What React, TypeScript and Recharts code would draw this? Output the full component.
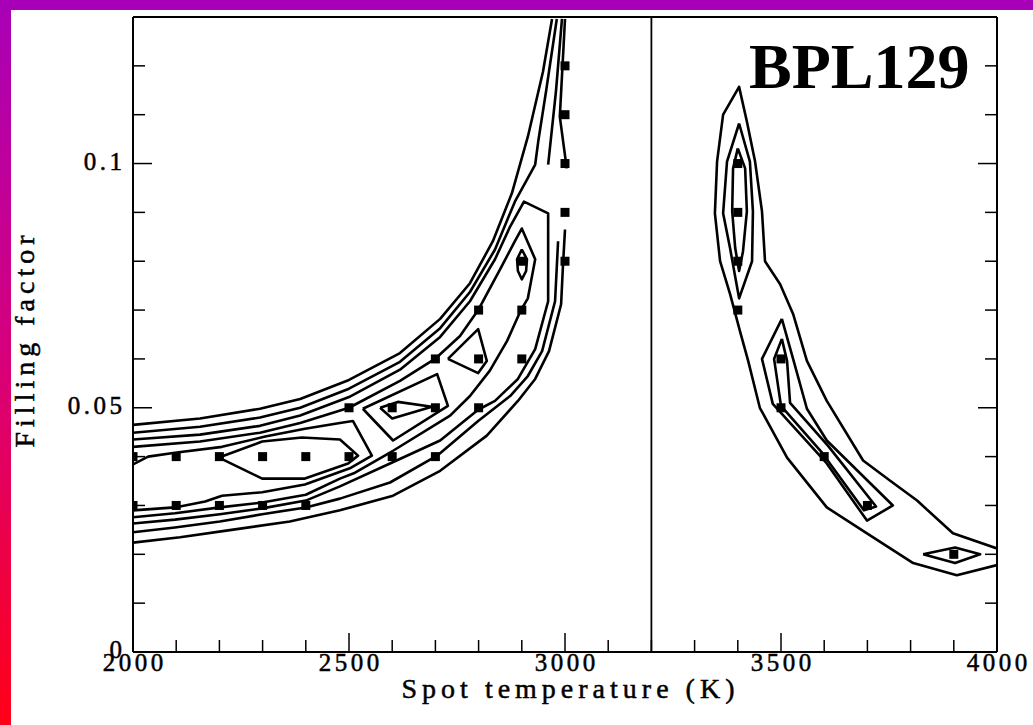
import React from "react";
import { ComposedChart, XAxis, YAxis, Line, Scatter, ReferenceLine, Label } from "recharts";

type Pt = [number, number]; // [spot temperature K, filling factor]

const xTicks = [2000, 2100, 2200, 2300, 2400, 2500, 2600, 2700, 2800, 2900, 3000, 3100, 3200, 3300, 3400, 3500, 3600, 3700, 3800, 3900, 4000];
const xMajorTicks = [2000, 2500, 3000, 3500, 4000];
const yTicks = [0, 0.01, 0.02, 0.03, 0.04, 0.05, 0.06, 0.07, 0.08, 0.09, 0.1, 0.11, 0.12];
const yMajorTicks = [0, 0.05, 0.1];
const yTickLabels = ["0", "0.05", "0.1"];

// grid models that were computed
const gridCool: Pt[] = [
  [2000, 0.04], [2100, 0.04], [2200, 0.04], [2300, 0.04], [2400, 0.04], [2500, 0.04], [2600, 0.04], [2700, 0.04],
  [2000, 0.03], [2100, 0.03], [2200, 0.03], [2300, 0.03], [2400, 0.03],
  [2500, 0.05], [2600, 0.05], [2700, 0.05], [2800, 0.05],
  [2700, 0.06], [2800, 0.06], [2900, 0.06],
  [2800, 0.07], [2900, 0.07],
  [2900, 0.08], [3000, 0.08], [3000, 0.09], [3000, 0.1], [3000, 0.11], [3000, 0.12],
];
const gridWarm: Pt[] = [
  [3400, 0.1], [3400, 0.09], [3400, 0.08], [3400, 0.07],
  [3500, 0.06], [3500, 0.05], [3600, 0.04], [3700, 0.03], [3900, 0.02],
];

// cool branch contours
const coolOuter1: Pt[] = [
  [2000, 0.0465], [2155, 0.0478], [2294, 0.0498], [2387, 0.0518], [2500, 0.0557], [2618, 0.0612],
  [2711, 0.0682], [2780, 0.0755], [2833, 0.0841], [2877, 0.0939], [2914, 0.1055], [2949, 0.1188], [2970, 0.1296],
];
const coolOuter2: Pt[] = [
  [2000, 0.0449], [2155, 0.0461], [2294, 0.048], [2387, 0.05], [2500, 0.0539], [2618, 0.0594], [2711, 0.0663],
  [2780, 0.0737], [2838, 0.0824], [2884, 0.0922], [2912, 0.0967], [2931, 0.0998], [2938, 0.1045], [2956, 0.1147], [2981, 0.1296],
];
const coolEdgeA: Pt[] = [[2993, 0.1296], [2979, 0.1147], [2961, 0.0998]];
const coolEdgeB: Pt[] = [[3000, 0.1296], [2988, 0.1096], [3004, 0.099]];
const coolHook: Pt[] = [
  [2000, 0.0435], [2155, 0.0445], [2294, 0.0463], [2387, 0.0484], [2500, 0.0522], [2618, 0.0578], [2711, 0.0645],
  [2780, 0.0718], [2838, 0.0804], [2873, 0.0871], [2905, 0.0922], [2961, 0.0898], [2961, 0.0718], [2931, 0.062],
  [2891, 0.0559], [2838, 0.0514], [2799, 0.0496], [2711, 0.0433], [2600, 0.0388], [2479, 0.0339], [2400, 0.031],
  [2299, 0.0294], [2201, 0.0282], [2097, 0.0271], [2000, 0.0263],
];
const coolLoop: Pt[] = [
  [2000, 0.042], [2155, 0.0431], [2294, 0.0449], [2387, 0.0469], [2500, 0.05], [2618, 0.0555], [2699, 0.06],
  [2757, 0.0647], [2799, 0.07], [2850, 0.0784], [2884, 0.0841], [2900, 0.0867], [2931, 0.0804], [2914, 0.0724],
  [2898, 0.07], [2866, 0.0637], [2826, 0.0576], [2780, 0.0524], [2734, 0.0484], [2602, 0.0412], [2514, 0.0367],
  [2479, 0.0355], [2400, 0.0322], [2299, 0.0306], [2201, 0.0296], [2097, 0.0284], [2000, 0.0276],
];
const coolInner: Pt[] = [
  [2000, 0.0384], [2035, 0.04], [2097, 0.0408], [2206, 0.042], [2306, 0.0441], [2398, 0.0457], [2479, 0.0469],
  [2509, 0.0473], [2553, 0.0402], [2502, 0.0376], [2398, 0.0343], [2299, 0.0327], [2206, 0.032], [2167, 0.0308],
  [2097, 0.0296], [2000, 0.029],
];
const coolMin1: Pt[] = [
  [2199, 0.0398], [2299, 0.0431], [2391, 0.0439], [2479, 0.0435], [2521, 0.0402], [2498, 0.0386],
  [2398, 0.0355], [2299, 0.0355], [2199, 0.0398],
];
const coolMin2: Pt[] = [[2532, 0.0498], [2704, 0.0569], [2729, 0.0504], [2602, 0.0433], [2532, 0.0498]];
const coolMin2Core: Pt[] = [[2572, 0.05], [2613, 0.0512], [2692, 0.0502], [2600, 0.0478], [2572, 0.05]];
const coolMin3: Pt[] = [[2729, 0.06], [2799, 0.0661], [2819, 0.0596], [2799, 0.0571], [2729, 0.06]];
const coolMin4: Pt[] = [
  [2900, 0.0824], [2912, 0.0804], [2910, 0.078], [2900, 0.0763], [2891, 0.078], [2889, 0.0804], [2900, 0.0824],
];
const coolLower2: Pt[] = [
  [2984, 0.0841], [2977, 0.0718], [2947, 0.0616], [2914, 0.0565], [2873, 0.0524], [2799, 0.0473], [2704, 0.0402],
  [2595, 0.0347], [2479, 0.0314], [2400, 0.0296], [2299, 0.0282], [2201, 0.0267], [2097, 0.0255], [2000, 0.0245],
];
const coolLower1: Pt[] = [
  [3000, 0.0865], [2995, 0.0786], [2991, 0.0712], [2963, 0.0616], [2931, 0.0559], [2891, 0.0514], [2819, 0.0443],
  [2711, 0.0371], [2602, 0.032], [2479, 0.029], [2363, 0.0267], [2220, 0.0249], [2109, 0.0235], [2000, 0.0224],
];

// warm branch contours
const warmOuter: Pt[] = [
  [4000, 0.0212], [3898, 0.0243], [3815, 0.031], [3752, 0.0351], [3690, 0.0392], [3606, 0.0514], [3560, 0.0596],
  [3528, 0.0692], [3498, 0.0753], [3463, 0.08], [3456, 0.0902], [3440, 0.1004], [3421, 0.1086], [3403, 0.1157],
  [3366, 0.11], [3352, 0.1004], [3347, 0.0898], [3359, 0.08], [3382, 0.0733], [3405, 0.0657], [3424, 0.0596],
  [3451, 0.05], [3514, 0.0398], [3606, 0.0296], [3699, 0.0243], [3806, 0.0182], [3907, 0.0157], [4000, 0.0178],
];
const warmMid: Pt[] = [
  [3403, 0.1082], [3428, 0.1004], [3435, 0.0902], [3433, 0.08], [3403, 0.0724], [3382, 0.0827], [3366, 0.0898],
  [3375, 0.1004], [3403, 0.1082],
];
const warmCore: Pt[] = [
  [3400, 0.1031], [3417, 0.099], [3421, 0.0902], [3412, 0.082], [3403, 0.078], [3394, 0.0827], [3387, 0.0902],
  [3389, 0.099], [3400, 0.1031],
];
const warmLow: Pt[] = [
  [3502, 0.0682], [3456, 0.06], [3481, 0.0508], [3606, 0.0386], [3699, 0.0269], [3759, 0.03], [3606, 0.0433],
  [3560, 0.0498], [3528, 0.06], [3502, 0.0682],
];
const warmLowCore: Pt[] = [
  [3502, 0.0641], [3484, 0.06], [3500, 0.0504], [3595, 0.0408], [3692, 0.029], [3720, 0.0298], [3609, 0.0422],
  [3521, 0.051], [3514, 0.0596], [3502, 0.0641],
];
const warmTail: Pt[] = [[3829, 0.02], [3903, 0.0214], [3961, 0.02], [3903, 0.0182], [3829, 0.02]];

const contours: Pt[][] = [
  coolOuter1, coolOuter2, coolEdgeA, coolEdgeB, coolHook, coolLoop, coolInner, coolMin1, coolMin2, coolMin2Core,
  coolMin3, coolMin4, coolLower2, coolLower1, warmOuter, warmMid, warmCore, warmLow, warmLowCore, warmTail,
];

const rows = (pts: Pt[]) => pts.map(([T, f]) => ({ T, f }));

const TICK_SPACING = 3.5;
const TITLE_SPACING = 5;
const tickFont = {
  fontFamily: '"Liberation Serif", serif',
  fontSize: 25,
  letterSpacing: TICK_SPACING,
  stroke: "#000",
  strokeWidth: 0.5,
};
const titleFont = {
  fontFamily: '"Liberation Serif", serif',
  fontSize: 28,
  letterSpacing: TITLE_SPACING,
  stroke: "#000",
  strokeWidth: 0.5,
};
const near = (a: number, b: number) => Math.abs(a - b) < 1e-9;
const MAJOR = 19;
const MINOR = 12;

function bottomTick({ x, y, payload }: any) {
  const major = xMajorTicks.some((m) => near(m, payload.value));
  return (
    <g>
      <line x1={x} x2={x} y1={y} y2={y - (major ? MAJOR : MINOR)} stroke="#000" strokeWidth={1.5} />
      {major && (
        <text x={x + TICK_SPACING / 2} y={y + 19} textAnchor="middle" fill="#000" style={tickFont}>
          {payload.value}
        </text>
      )}
    </g>
  );
}

function topTick({ x, y, payload }: any) {
  const major = xMajorTicks.some((m) => near(m, payload.value));
  return <line x1={x} x2={x} y1={y} y2={y + (major ? MAJOR : MINOR)} stroke="#000" strokeWidth={1.5} />;
}

function leftTick({ x, y, payload }: any) {
  const idx = yMajorTicks.findIndex((m) => near(m, payload.value));
  const major = idx >= 0;
  return (
    <g>
      <line x1={x} x2={x + (major ? MAJOR : MINOR)} y1={y} y2={y} stroke="#000" strokeWidth={1.5} />
      {major && (
        <text x={x - 11 + TICK_SPACING} y={y + 6} textAnchor="end" fill="#000" style={tickFont}>
          {yTickLabels[idx]}
        </text>
      )}
    </g>
  );
}

function rightTick({ x, y, payload }: any) {
  const major = yMajorTicks.some((m) => near(m, payload.value));
  return <line x1={x} x2={x - (major ? MAJOR : MINOR)} y1={y} y2={y} stroke="#000" strokeWidth={1.5} />;
}

const square = (p: any) => <rect x={p.cx - 4.5} y={p.cy - 4.5} width={9} height={9} fill="#000" />;

export default function App() {
  const axisLine = { stroke: "#000", strokeWidth: 2 };
  return (
    <div style={{ position: "relative", width: 1033, height: 725, background: "#fff", overflow: "hidden" }}>
      <style>{"body{margin:0}"}</style>
      <ComposedChart width={1033} height={725} margin={{ top: 16, right: 35, bottom: 72, left: 132 }}>
        <XAxis
          type="number"
          dataKey="T"
          domain={[2000, 4000]}
          allowDataOverflow
          ticks={xTicks}
          interval={0}
          height={1}
          tickSize={0}
          tickMargin={0}
          tickLine={false}
          axisLine={axisLine}
          tick={bottomTick}
        >
          <Label
            content={({ viewBox }: any) => (
              <text
                x={viewBox.x + viewBox.width / 2 + 3 + TITLE_SPACING / 2}
                y={viewBox.y + 46}
                textAnchor="middle"
                fill="#000"
                style={titleFont}
              >
                Spot temperature (K)
              </text>
            )}
          />
        </XAxis>
        <XAxis
          xAxisId="top"
          orientation="top"
          type="number"
          domain={[2000, 4000]}
          allowDataOverflow
          ticks={xTicks}
          interval={0}
          height={1}
          tickSize={0}
          tickMargin={0}
          tickLine={false}
          axisLine={axisLine}
          tick={topTick}
        />
        <YAxis
          type="number"
          dataKey="f"
          domain={[0, 0.13]}
          allowDataOverflow
          ticks={yTicks}
          interval={0}
          width={1}
          tickSize={0}
          tickMargin={0}
          tickLine={false}
          axisLine={axisLine}
          tick={leftTick}
        >
          <Label
            content={({ viewBox }: any) => {
              const cx = viewBox.x + viewBox.width - 99;
              const cy = viewBox.y + viewBox.height / 2 + 2 + TITLE_SPACING / 2;
              return (
                <text x={cx} y={cy} transform={`rotate(-90 ${cx} ${cy})`} textAnchor="middle" fill="#000" style={titleFont}>
                  Filling factor
                </text>
              );
            }}
          />
        </YAxis>
        <YAxis
          yAxisId="right"
          orientation="right"
          type="number"
          domain={[0, 0.13]}
          allowDataOverflow
          ticks={yTicks}
          interval={0}
          width={1}
          tickSize={0}
          tickMargin={0}
          tickLine={false}
          axisLine={axisLine}
          tick={rightTick}
        />
        <ReferenceLine x={3200} stroke="#000" strokeWidth={1.8} />
        {contours.map((c, i) => (
          <Line
            key={i}
            data={rows(c)}
            dataKey="f"
            type="linear"
            stroke="#000"
            strokeWidth={2.6}
            strokeLinejoin="round"
            dot={false}
            activeDot={false}
            isAnimationActive={false}
          />
        ))}
        <Scatter data={rows(gridCool)} dataKey="f" shape={square} isAnimationActive={false} />
        <Scatter data={rows(gridWarm)} dataKey="f" shape={square} isAnimationActive={false} />
      </ComposedChart>
      <svg width={1033} height={725} style={{ position: "absolute", left: 0, top: 0, pointerEvents: "none" }}>
        <text x={749} y={88} fill="#000" style={{ fontFamily: '"Liberation Serif", "Times New Roman", serif', fontWeight: 700, fontSize: 64 }}>
          BPL129
        </text>
      </svg>
      <div style={{ position: "absolute", left: 0, top: 0, width: 1033, height: 10, background: "#a800b8" }} />
      <div
        style={{
          position: "absolute",
          left: 0,
          top: 0,
          width: 11,
          height: 725,
          background: "linear-gradient(to bottom, #a800b8 0%, #d8007a 50%, #ff0018 100%)",
        }}
      />
    </div>
  );
}
